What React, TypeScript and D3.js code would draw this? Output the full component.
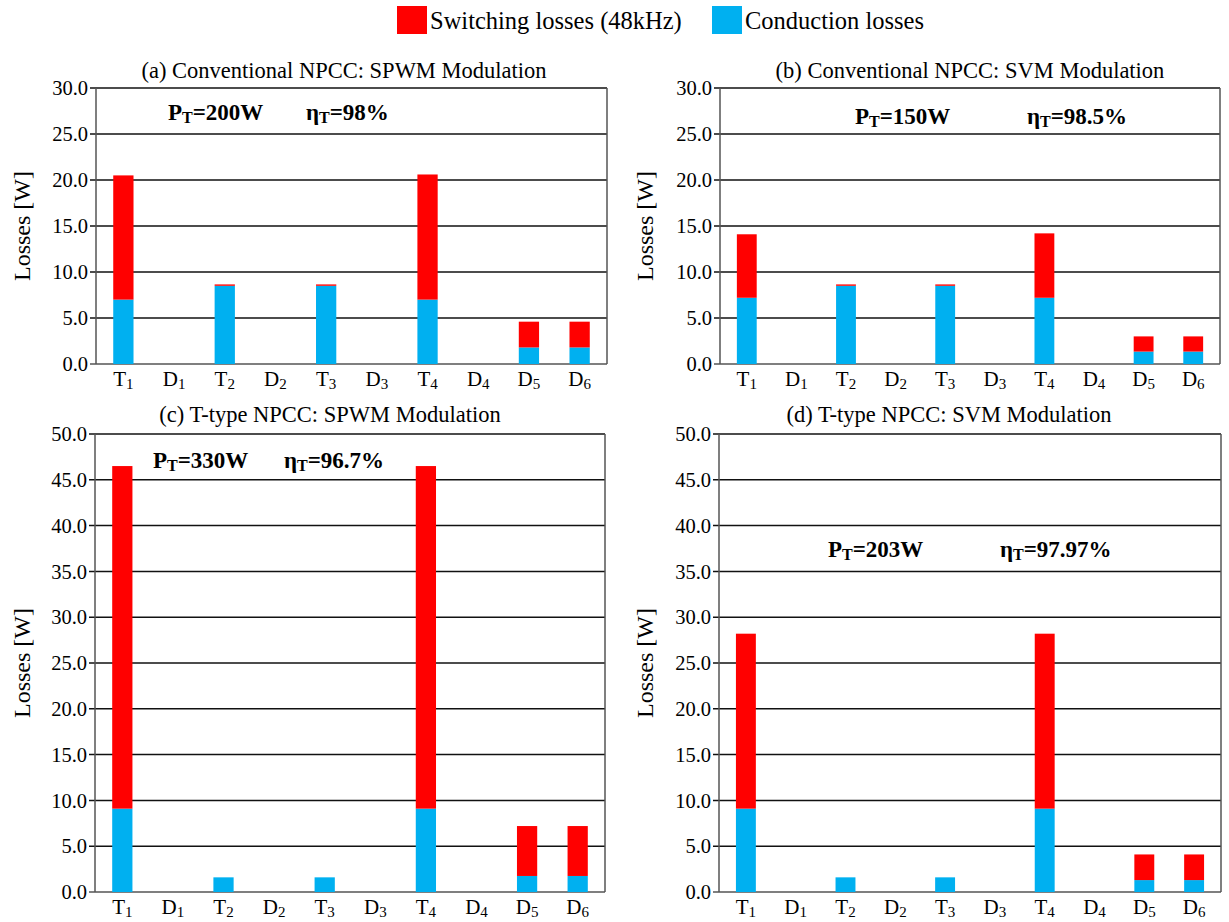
import React from "react";
import * as d3 from "d3";

// Device names along the x axis (letter + subscript index)
const devices = ["T1", "D1", "T2", "D2", "T3", "D3", "T4", "D4", "D5", "D6"];

// Losses per device [W]
const conductionA = [7.0, 0, 8.5, 0, 8.5, 0, 7.0, 0, 1.8, 1.8];
const switchingA = [13.5, 0, 0.15, 0, 0.15, 0, 13.6, 0, 2.8, 2.8];

const conductionB = [7.2, 0, 8.5, 0, 8.5, 0, 7.2, 0, 1.35, 1.35];
const switchingB = [6.9, 0, 0.15, 0, 0.15, 0, 7.0, 0, 1.65, 1.65];

const conductionC = [9.1, 0, 1.6, 0, 1.6, 0, 9.1, 0, 1.75, 1.75];
const switchingC = [37.4, 0, 0, 0, 0, 0, 37.4, 0, 5.45, 5.45];

const conductionD = [9.1, 0, 1.6, 0, 1.6, 0, 9.1, 0, 1.3, 1.3];
const switchingD = [19.1, 0, 0, 0, 0, 0, 19.1, 0, 2.8, 2.8];

const ticks30 = [0, 5, 10, 15, 20, 25, 30];
const ticks50 = [0, 5, 10, 15, 20, 25, 30, 35, 40, 45, 50];

const legendItems = [
  { key: "switching", label: "Switching losses (48kHz)", color: "#FF0000" },
  { key: "conduction", label: "Conduction losses", color: "#00B0F0" },
];

const colorOf: Record<string, string> = {
  conduction: "#00B0F0",
  switching: "#FF0000",
};

const FONT = "'Liberation Serif', 'Times New Roman', serif";

type Panel = {
  title: string;
  conduction: number[];
  switching: number[];
  yMax: number;
  ticks: number[];
  x0: number;
  x1: number;
  yTop: number;
  yBottom: number;
  titleX: number;
  titleY: number;
  power: string;
  eff: string;
  pX: number;
  eX: number;
  annY: number;
  labelX: number;
};

const panels: Panel[] = [
  {
    title: "(a) Conventional NPCC: SPWM Modulation",
    conduction: conductionA,
    switching: switchingA,
    yMax: 30,
    ticks: ticks30,
    x0: 96,
    x1: 607,
    yTop: 88,
    yBottom: 364,
    titleX: 344,
    titleY: 78,
    power: "200W",
    eff: "98%",
    pX: 168,
    eX: 306,
    annY: 120,
    labelX: 30,
  },
  {
    title: "(b) Conventional NPCC: SVM Modulation",
    conduction: conductionB,
    switching: switchingB,
    yMax: 30,
    ticks: ticks30,
    x0: 720,
    x1: 1220,
    yTop: 88,
    yBottom: 364,
    titleX: 970,
    titleY: 78,
    power: "150W",
    eff: "98.5%",
    pX: 855,
    eX: 1027,
    annY: 124,
    labelX: 653,
  },
  {
    title: "(c) T-type NPCC: SPWM Modulation",
    conduction: conductionC,
    switching: switchingC,
    yMax: 50,
    ticks: ticks50,
    x0: 95,
    x1: 605,
    yTop: 434,
    yBottom: 892,
    titleX: 330,
    titleY: 422,
    power: "330W",
    eff: "96.7%",
    pX: 153,
    eX: 284,
    annY: 468,
    labelX: 30,
  },
  {
    title: "(d) T-type NPCC: SVM Modulation",
    conduction: conductionD,
    switching: switchingD,
    yMax: 50,
    ticks: ticks50,
    x0: 719,
    x1: 1221,
    yTop: 434,
    yBottom: 892,
    titleX: 949,
    titleY: 422,
    power: "203W",
    eff: "97.97%",
    pX: 828,
    eX: 1000,
    annY: 557,
    labelX: 653,
  },
];

function DeviceLabel({ name, x, y }: { name: string; x: number; y: number }) {
  return (
    <text x={x} y={y} textAnchor="middle" fontFamily={FONT} fontSize={21} fill="#000">
      {name[0]}
      <tspan fontSize={15} dy={3}>
        {name.slice(1)}
      </tspan>
    </text>
  );
}

function ChartPanel({ p }: { p: Panel }) {
  const x = d3
    .scaleBand<string>()
    .domain(devices)
    .range([p.x0, p.x1])
    .paddingInner(0.6)
    .paddingOuter(0.34);
  const y = d3.scaleLinear().domain([0, p.yMax]).range([p.yBottom, p.yTop]);

  const rows = devices.map((d, i) => ({
    device: d,
    conduction: p.conduction[i],
    switching: p.switching[i],
  }));
  const series = d3.stack<any>().keys(["conduction", "switching"])(rows);

  const midY = (p.yTop + p.yBottom) / 2;

  return (
    <g>
      <text
        x={p.titleX}
        y={p.titleY}
        textAnchor="middle"
        fontFamily={FONT}
        fontSize={22.5}
        fill="#000"
      >
        {p.title}
      </text>

      {/* horizontal grid lines and tick labels */}
      {p.ticks.map((t) => (
        <g key={t}>
          <line
            x1={p.x0 - 6}
            x2={p.x1}
            y1={y(t)}
            y2={y(t)}
            stroke={t === 0 ? "#555" : "#111"}
            strokeWidth={1.5}
          />
          <text
            x={p.x0 - 8}
            y={y(t)}
            dy="0.35em"
            textAnchor="end"
            fontFamily={FONT}
            fontSize={20.5}
            fill="#000"
          >
            {d3.format(".1f")(t)}
          </text>
        </g>
      ))}

      {/* stacked bars */}
      {series.map((s) =>
        s.map((seg, i) => {
          const h = y(seg[0]) - y(seg[1]);
          if (h <= 0) return null;
          return (
            <rect
              key={s.key + i}
              x={x(devices[i])}
              y={y(seg[1])}
              width={x.bandwidth()}
              height={h}
              fill={colorOf[s.key]}
            />
          );
        })
      )}

      {/* frame */}
      <line x1={p.x0} x2={p.x0} y1={p.yTop} y2={p.yBottom} stroke="#555" strokeWidth={1.5} />
      <line x1={p.x1} x2={p.x1} y1={p.yTop} y2={p.yBottom} stroke="#555" strokeWidth={1.5} />

      {devices.map((d) => (
        <DeviceLabel key={d} name={d} x={(x(d) as number) + x.bandwidth() / 2} y={p.yBottom + 22} />
      ))}

      <text
        transform={`translate(${p.labelX},${midY}) rotate(-90)`}
        textAnchor="middle"
        fontFamily={FONT}
        fontSize={24}
        fill="#000"
      >
        Losses [W]
      </text>

      <text x={p.pX} y={p.annY} fontFamily={FONT} fontSize={23} fontWeight="bold" fill="#000">
        P
        <tspan fontSize={16} dy={3}>
          T
        </tspan>
        <tspan dy={-3}>={p.power}</tspan>
      </text>
      <text x={p.eX} y={p.annY} fontFamily={FONT} fontSize={23} fontWeight="bold" fill="#000">
        η
        <tspan fontSize={16} dy={3}>
          T
        </tspan>
        <tspan dy={-3}>={p.eff}</tspan>
      </text>
    </g>
  );
}

export default function App() {
  const legendX = [397, 712];
  return (
    <svg
      width={1229}
      height={922}
      style={{ position: "absolute", left: 0, top: 0, background: "#fff" }}
    >
      <rect width={1229} height={922} fill="#fff" />
      {legendItems.map((it, i) => (
        <g key={it.key}>
          <rect x={legendX[i]} y={6} width={30} height={28} fill={it.color} />
          <text
            x={legendX[i] + 33}
            y={29}
            fontFamily={FONT}
            fontSize={24.5}
            fill="#000"
          >
            {it.label}
          </text>
        </g>
      ))}
      {panels.map((p) => (
        <ChartPanel key={p.title} p={p} />
      ))}
    </svg>
  );
}
